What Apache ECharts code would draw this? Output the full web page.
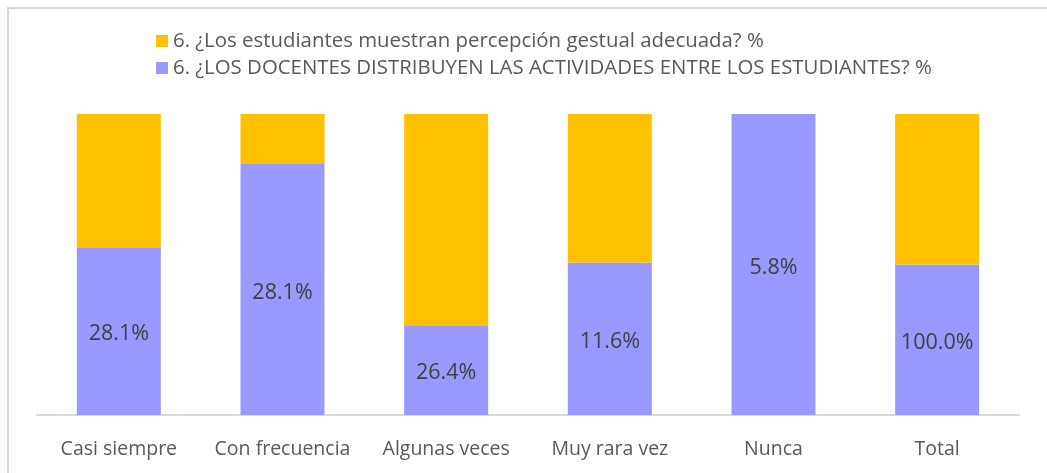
<!DOCTYPE html>
<html><head><meta charset="utf-8">
<script src="https://cdn.jsdelivr.net/npm/echarts@6/dist/echarts.min.js"></script>
<style>html,body{margin:0;padding:0;background:#fff}#c{width:1047px;height:473px}</style>
</head><body><div id="c"></div>
<script>
var categories = ['Casi siempre', 'Con frecuencia', 'Algunas veces', 'Muy rara vez', 'Nunca', 'Total'];
var docentesValues = [28.1, 28.1, 26.4, 11.6, 5.8, 100.0];
var estudiantesValues = [22.3, 5.6, 62.2, 11.3, 0, 100.0];
var seriesNames = ['6. ¿Los estudiantes muestran percepción gestual adecuada? %', '6. ¿LOS DOCENTES DISTRIBUYEN LAS ACTIVIDADES ENTRE LOS ESTUDIANTES? %'];

var FONT = 'Open Sans';
function share(a, b, i) { var t = a[i] + b[i]; return t ? a[i] / t * 100 : 0; }
var docShare = categories.map(function (c, i) { return { value: share(docentesValues, estudiantesValues, i), raw: docentesValues[i] }; });
var estShare = categories.map(function (c, i) { return { value: share(estudiantesValues, docentesValues, i), raw: estudiantesValues[i] }; });

var chart = echarts.init(document.getElementById('c'));
chart.setOption({
  animation: false,
  textStyle: { fontFamily: FONT },
  graphic: [{ type: 'rect', shape: { x: 8, y: 8, width: 1100, height: 600 }, style: { fill: 'none', stroke: '#d9d9d9', lineWidth: 2 }, silent: true }],
  legend: {
    orient: 'vertical', left: 151, top: 26, itemWidth: 12, itemHeight: 12, itemGap: 7,
    icon: 'rect',
    data: [seriesNames[0], seriesNames[1]],
    textStyle: { color: '#595959', fontSize: 20.4, fontFamily: FONT }
  },
  grid: { left: 37, right: 28, top: 114, bottom: 58, containLabel: false },
  xAxis: {
    type: 'category', data: categories,
    axisLine: { lineStyle: { color: '#d9d9d9', width: 2 } },
    axisTick: { show: false },
    axisLabel: { color: '#595959', fontSize: 19.5, margin: 24, interval: 0, fontFamily: FONT }
  },
  yAxis: { type: 'value', min: 0, max: 100, show: false, splitLine: { show: false } },
  series: [
    {
      name: seriesNames[1], type: 'bar', stack: 's', data: docShare, barWidth: 84,
      itemStyle: { color: '#9999ff' },
      label: { show: true, position: 'inside', offset: [0, 3], color: '#404040', fontSize: 21.5, fontFamily: FONT,
        formatter: function (p) { return p.data.raw.toFixed(1) + '%'; } }
    },
    {
      name: seriesNames[0], type: 'bar', stack: 's', data: estShare, barWidth: 84,
      itemStyle: { color: '#ffc000' }
    }
  ]
});
</script></body></html>
